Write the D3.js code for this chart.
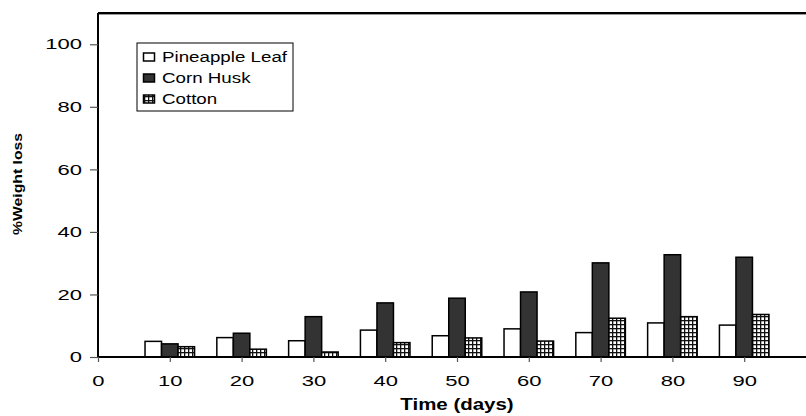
<!DOCTYPE html>
<html><head><meta charset="utf-8">
<script src="https://cdn.jsdelivr.net/npm/d3@7"></script>
<style>body{margin:0;background:#fff}svg{display:block;font-family:"Liberation Sans",Arial,sans-serif}</style>
</head><body>
<svg id="c" width="806" height="416"></svg>
<script>
const days = [10, 20, 30, 40, 50, 60, 70, 80, 90];
const seriesNames = ["Pineapple Leaf", "Corn Husk", "Cotton"];
const pineappleLeaf = [5.0, 6.2, 5.2, 8.6, 6.8, 9.0, 7.8, 10.9, 10.2];
const cornHusk = [4.2, 7.6, 12.9, 17.3, 18.8, 20.8, 30.1, 32.7, 31.9];
const cotton = [3.3, 2.5, 1.6, 4.6, 6.1, 5.1, 12.4, 12.9, 13.6];
const xTicks = [0, 10, 20, 30, 40, 50, 60, 70, 80, 90];
const yTicks = [0, 20, 40, 60, 80, 100];

const series = [pineappleLeaf, cornHusk, cotton];
const TSX = 1.52; // horizontal stretch of tick labels in the reference
const svg = d3.select("#c");
const defs = svg.append("defs");
const pat = defs.append("pattern").attr("id","grid").attr("patternUnits","userSpaceOnUse")
  .attr("width",4).attr("height",4);
pat.append("rect").attr("width",4).attr("height",4).attr("fill","#fff");
pat.append("rect").attr("x",0).attr("y",0).attr("width",1.3).attr("height",4).attr("fill","#111");
pat.append("rect").attr("x",0).attr("y",0).attr("width",4).attr("height",1.3).attr("fill","#111");
const fills = ["#fff", "#333", "url(#grid)"];

const x0 = 98, yBase = 357;
const x = d3.scaleLinear().domain([0, 10]).range([x0, x0 + 71.8]);
const y = d3.scaleLinear().domain([0, 110]).range([yBase, 13]);
const bw = x(2.3) - x(0);

// frame top line
svg.append("line").attr("x1",x0).attr("x2",806).attr("y1",y(110)+1).attr("y2",y(110)+1).attr("stroke","#999").attr("stroke-width",2);
svg.append("line").attr("x1",x0).attr("x2",806).attr("y1",y(110)).attr("y2",y(110)).attr("stroke","#000").attr("stroke-width",2);

// bars
series.forEach((vals, si) => {
  svg.append("g").selectAll("rect").data(days).enter().append("rect")
    .attr("x", (d) => x(d) - 1.5*bw + si*bw)
    .attr("y", (d,i) => y(vals[i]))
    .attr("width", bw)
    .attr("height", (d,i) => yBase - y(vals[i]))
    .attr("fill", fills[si])
    .attr("stroke", "#000").attr("stroke-width", 1.5);
});

// y axis
const yAxis = svg.append("g").attr("transform",`translate(${x0},0)`)
  .call(d3.axisLeft(y).tickValues(yTicks).tickSize(8).tickPadding(2.5));
yAxis.select(".domain").attr("d", `M0,${y(110)}V${yBase}`).attr("stroke-width",2);
yAxis.selectAll(".tick line").attr("stroke-width",1.2).attr("stroke","#555");
yAxis.selectAll("text").attr("font-size",14.5).attr("font-family","Liberation Sans, Arial").attr("fill","#000")
  .attr("transform",`scale(${TSX},1)`);

// x axis
const xAxis = svg.append("g").attr("transform",`translate(0,${yBase})`)
  .call(d3.axisBottom(x).tickValues(xTicks).tickSize(5).tickPadding(13.5));
xAxis.select(".domain").attr("d", `M${x0},0H806`).attr("stroke-width",2);
xAxis.selectAll(".tick line").attr("stroke-width",1.2).attr("stroke","#555");
xAxis.selectAll("text").attr("font-size",14.5).attr("font-family","Liberation Sans, Arial").attr("fill","#000")
  .attr("transform",`scale(${TSX},1)`);

// axis titles
svg.append("text").attr("transform",`translate(457,410) scale(1.28,1)`).attr("text-anchor","middle")
  .attr("font-weight","bold").attr("font-size",16).text("Time (days)");
svg.append("text").attr("transform","translate(22,184) rotate(-90)").attr("text-anchor","middle")
  .attr("font-weight","bold").attr("font-size",13)
  .attr("textLength",102).attr("lengthAdjust","spacingAndGlyphs").text("%Weight loss");

// legend
const lg = svg.append("g");
lg.append("rect").attr("x",137).attr("y",43).attr("width",156).attr("height",68)
  .attr("fill","#fff").attr("stroke","#000").attr("stroke-width",1);
seriesNames.forEach((n,i) => {
  const yy = 57 + i*21;
  lg.append("rect").attr("x",143.5).attr("y",yy-4).attr("width",11).attr("height",8)
    .attr("fill",fills[i]).attr("stroke","#000").attr("stroke-width",1.5);
  lg.append("text").attr("transform",`translate(162,${yy+5}) scale(1.25,1)`).attr("font-size",15).text(n);
});
</script>
</body></html>
